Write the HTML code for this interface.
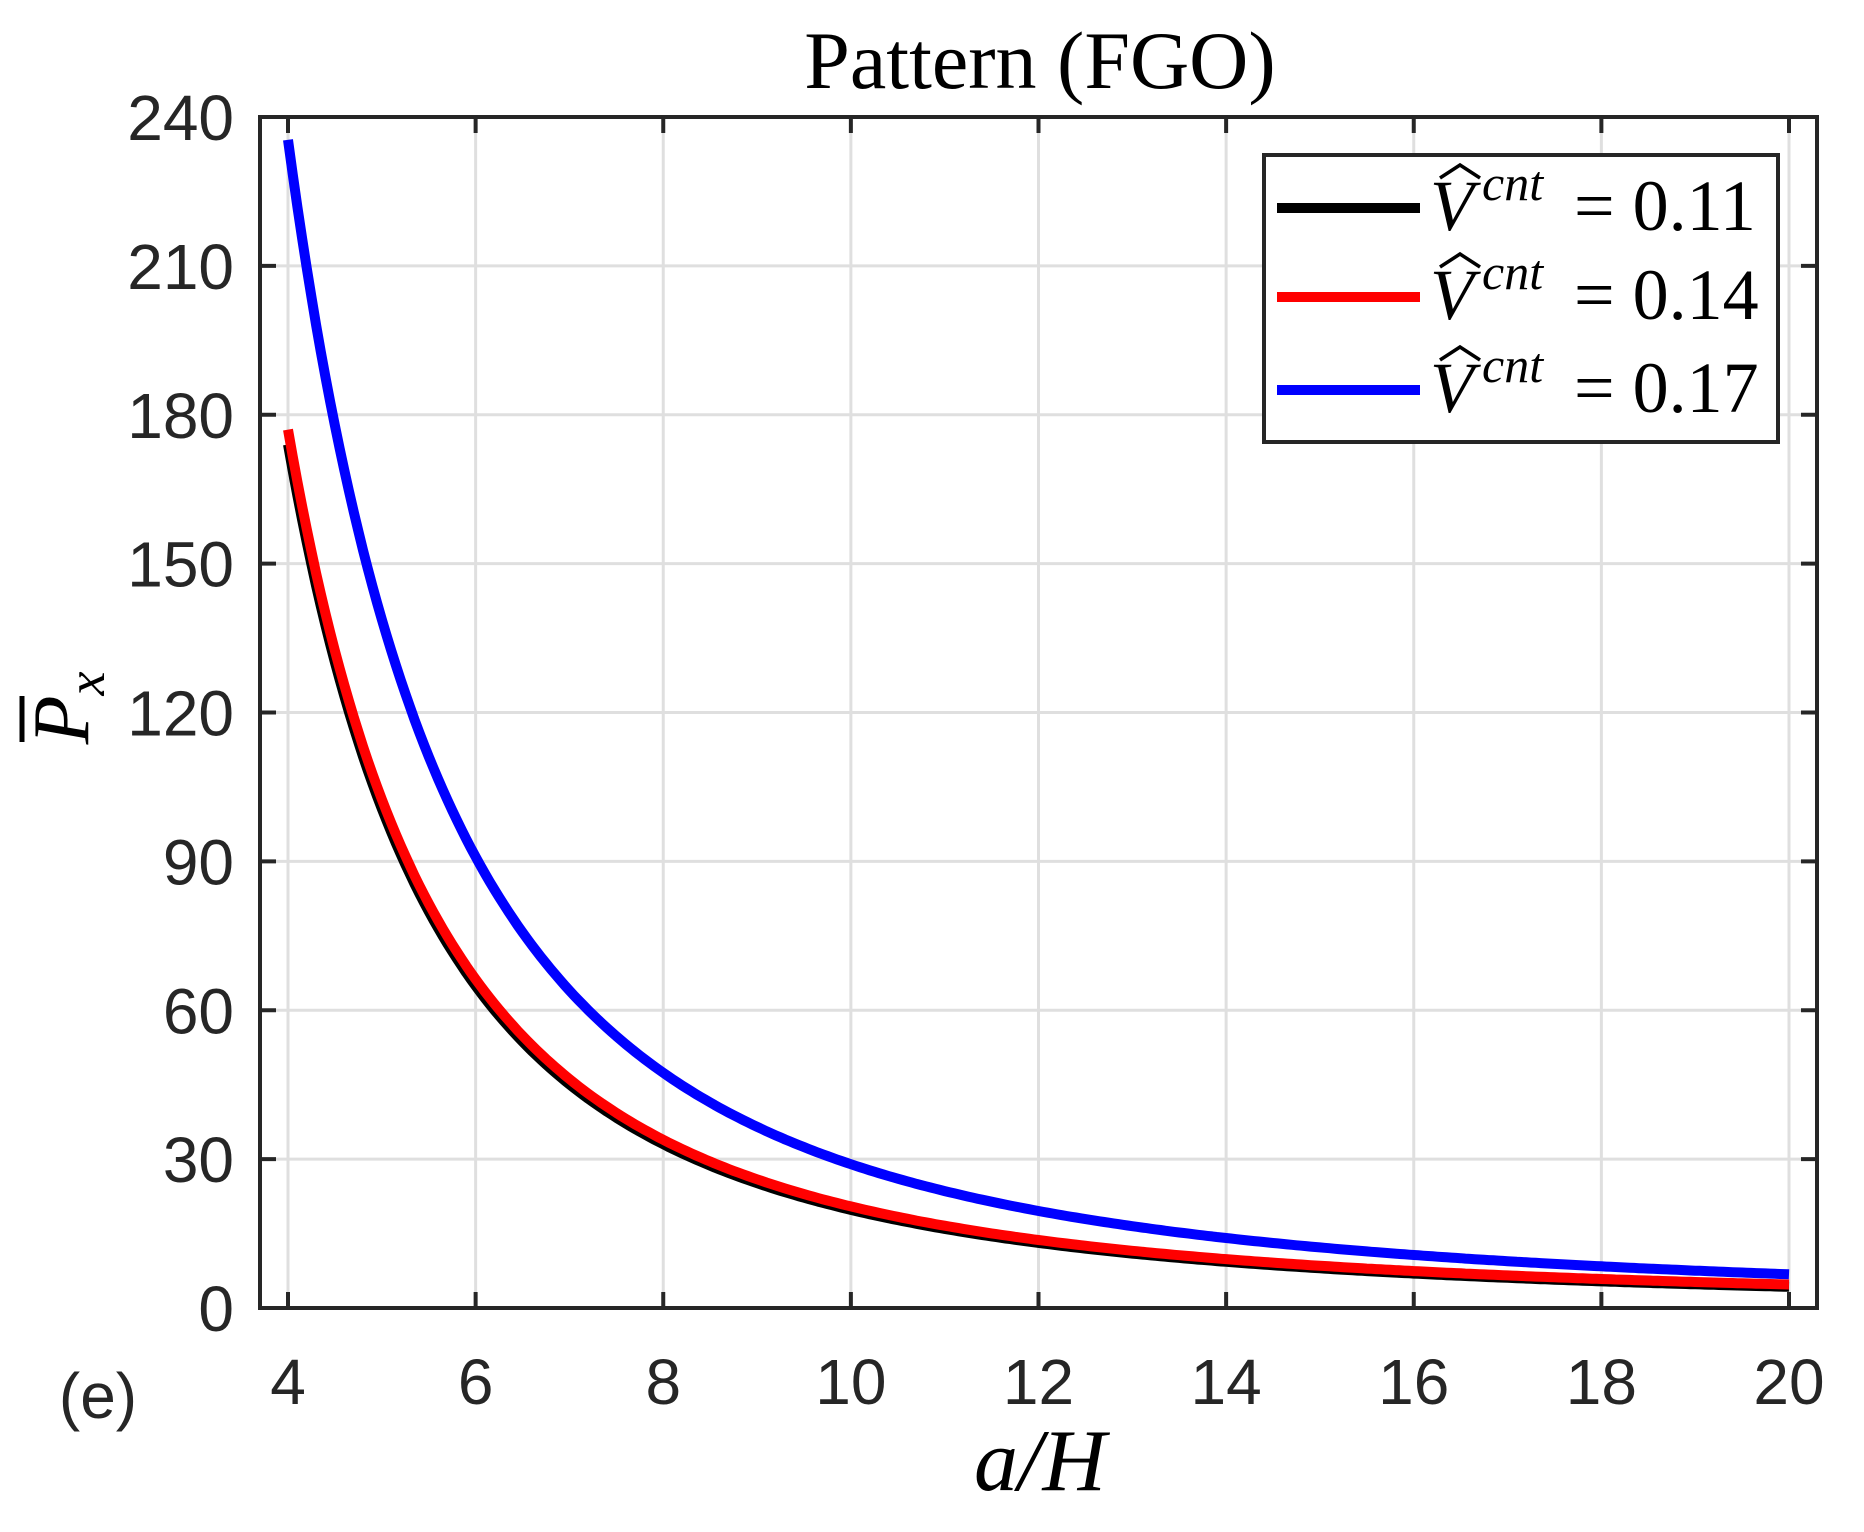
<!DOCTYPE html>
<html><head><meta charset="utf-8"><style>
html,body{margin:0;padding:0;background:#fff;}
svg{display:block;}
.tk{font-family:"Liberation Sans",sans-serif;font-size:64px;fill:#262626;}
.sf{font-family:"Liberation Serif",serif;fill:#000;}
</style></head><body>
<svg id="s" width="1864" height="1532" viewBox="0 0 1864 1532" xmlns="http://www.w3.org/2000/svg">
<rect width="1864" height="1532" fill="#fff"/>
<g id="grid" stroke="#dfdfdf" stroke-width="3"></g>
<g id="curves" fill="none" stroke-width="10" stroke-linejoin="round"></g>
<g id="axes" stroke="#262626" stroke-width="4" fill="none"></g>
<g id="labels"></g>
<text class="sf" x="1040" y="88" font-size="82" text-anchor="middle">Pattern (FGO)</text>
<text class="sf" x="1040" y="1490" font-size="88" text-anchor="middle" font-style="italic">a/H</text>
<g transform="translate(88,708) rotate(-90)">
<text class="sf" x="0" y="0" font-size="80" text-anchor="middle" font-style="italic">P<tspan font-size="54" dy="16">x</tspan></text>
<line x1="-34" y1="-66" x2="12" y2="-66" stroke="#000" stroke-width="5"/>
</g>
<text class="tk" x="98" y="1418" text-anchor="middle">(e)</text>
<rect x="1264" y="155" width="514" height="287" fill="#fff" stroke="#262626" stroke-width="4"/>
<line x1="1277" x2="1420" y1="208" y2="208" stroke="#000" stroke-width="10"/>
<line x1="1277" x2="1420" y1="297" y2="297" stroke="#f00" stroke-width="10"/>
<line x1="1277" x2="1420" y1="390" y2="390" stroke="#00f" stroke-width="10"/>
<g class="sf">
<text x="1430" y="230" font-size="72" font-style="italic">V</text><text x="1482" y="200" font-size="50" font-style="italic">cnt</text><text x="1574" y="230" font-size="72">= 0.11</text>
<text x="1430" y="319" font-size="72" font-style="italic">V</text><text x="1482" y="289" font-size="50" font-style="italic">cnt</text><text x="1574" y="319" font-size="72">= 0.14</text>
<text x="1430" y="412" font-size="72" font-style="italic">V</text><text x="1482" y="382" font-size="50" font-style="italic">cnt</text><text x="1574" y="412" font-size="72">= 0.17</text>
</g>
<g fill="none" stroke="#000" stroke-width="3.5">
<path d="M1440,178 L1460,165 L1480,178"/>
<path d="M1440,267 L1460,254 L1480,267"/>
<path d="M1440,360 L1460,347 L1480,360"/>
</g>
</svg>
<script>
var NS="http://www.w3.org/2000/svg";
function el(p,t,a){var e=document.createElementNS(NS,t);for(var k in a)e.setAttribute(k,a[k]);p.appendChild(e);return e;}
var L=260,R=1817,T=117,B=1308;
function X(x){return 288+(x-4)*93.8125;}
function Y(v){return 1308-v*148.875/30;}
var g=document.getElementById('grid'),ax=document.getElementById('axes'),lb=document.getElementById('labels');
for(var x=4;x<=20;x+=2){el(g,'line',{x1:X(x),x2:X(x),y1:T,y2:B});
 el(ax,'line',{x1:X(x),x2:X(x),y1:B,y2:B-16});el(ax,'line',{x1:X(x),x2:X(x),y1:T,y2:T+16});
 var t=el(lb,'text',{class:'tk',x:X(x),y:1404,'text-anchor':'middle'});t.textContent=x;}
for(var v=0;v<=240;v+=30){el(g,'line',{x1:L,x2:R,y1:Y(v),y2:Y(v)});
 el(ax,'line',{x1:L,x2:L+16,y1:Y(v),y2:Y(v)});el(ax,'line',{x1:R,x2:R-16,y1:Y(v),y2:Y(v)});
 var t=el(lb,'text',{class:'tk',x:234,y:Y(v)+23,'text-anchor':'end'});t.textContent=v;}
el(ax,'rect',{x:L,y:T,width:R-L,height:B-T});
var c=document.getElementById('curves');
function f(a,b,s,o){return function(x){return s*(a/(x*x*x)+b/(x*x))+o;};}
var fs=[[f(5376,1440,1,0),'#000'],[f(5376,1440,1.015,0.4),'#f00'],[f(6016,2256,1,0.4),'#00f']];
fs.forEach(function(q){var d='';for(var i=0;i<=320;i++){var x=4+16*i/320;d+=(i?'L':'M')+X(x).toFixed(1)+','+Y(q[0](x)).toFixed(1);}
 el(c,'path',{d:d,stroke:q[1]});});
</script>
</body></html>
